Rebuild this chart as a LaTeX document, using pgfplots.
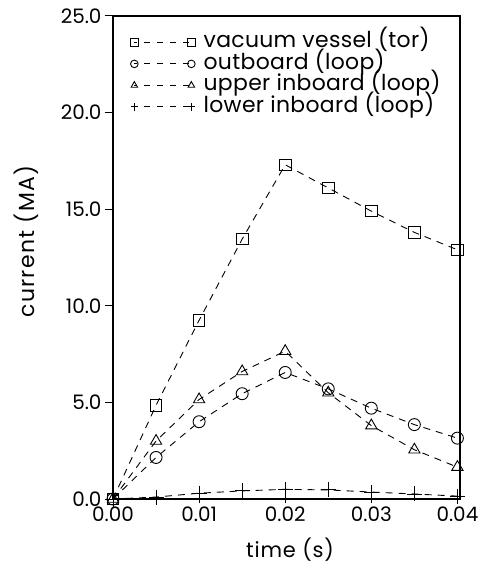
\documentclass[border=0pt]{standalone}
\usepackage{pgfplots}
\pgfplotsset{compat=1.18}
\usepackage{fontspec}
\setmainfont{Poppins}
\begin{document}
\begin{tikzpicture}
\path[use as bounding box] (-113bp,-71bp) rectangle (369bp,499bp);
\begin{axis}[
 at={(0,0)}, anchor=south west,
 scale only axis, width=347bp, height=483bp,
 xmin=0, xmax=0.0403, ymin=0, ymax=25,
 clip=false,
 xtick={0,0.01,0.02,0.03,0.04},
 ytick={0,5,10,15,20,25},
 scaled x ticks=false, scaled y ticks=false,
 x tick label style={font=\fontsize{20}{22}\selectfont, /pgf/number format/.cd, fixed, fixed zerofill, precision=2, assume math mode=true},
 y tick label style={font=\fontsize{20}{22}\selectfont, /pgf/number format/.cd, fixed, fixed zerofill, precision=1, assume math mode=true},
 xtick pos=bottom, ytick pos=left,
 xtick align=center, ytick align=outside,
 major tick length=8bp,
 tick style={black, line width=1pt},
 axis line style={line width=1.4pt},
 xlabel={time (s)}, ylabel={current (MA)},
 xlabel style={font=\fontsize{21}{22}\selectfont\addfontfeatures{LetterSpace=4}, at={(axis description cs:0.51,-0.104)}, anchor=center},
 ylabel style={font=\fontsize{22}{22}\selectfont\addfontfeatures{LetterSpace=6}, at={(axis description cs:-0.251,0.533)}, anchor=center},
 legend cell align=left,
 legend style={at={(axis description cs:0.05,0.968)}, anchor=north west, draw=none, fill=none,
   font=\fontsize{22}{22}\selectfont\addfontfeatures{LetterSpace=1.5}, inner sep=0pt, row sep=0pt, column sep=7bp,
   nodes={inner sep=1.5bp, text height=14.5bp, text depth=4bp}},
 legend image code/.code={\draw[#1, mark size=3.8bp, dash pattern=on 6bp off 7bp, dash phase=-10bp] plot coordinates {(0bp,0bp) (57bp,0bp)};},
 every axis plot/.append style={black, line width=0.9pt, dash pattern=on 7bp off 6bp, mark options={solid, line width=0.9pt}},
]
\addplot[mark=square, mark size=5.8bp] coordinates {
(0,0) (0.005,4.85) (0.01,9.25) (0.015,13.45) (0.02,17.3) (0.025,16.1) (0.03,14.9) (0.035,13.8) (0.04,12.9)};
\addlegendentry{vacuum vessel (tor)}
\addplot[mark=o, mark size=6bp] coordinates {
(0,0) (0.005,2.15) (0.01,4.0) (0.015,5.45) (0.02,6.55) (0.025,5.7) (0.03,4.7) (0.035,3.85) (0.04,3.15)};
\addlegendentry{outboard (loop)}
\addplot[mark=triangle, mark size=6.5bp] coordinates {
(0,0) (0.005,3.0) (0.01,5.15) (0.015,6.6) (0.02,7.65) (0.025,5.5) (0.03,3.8) (0.035,2.55) (0.04,1.65)};
\addlegendentry{upper inboard (loop)}
\addplot[mark=+, mark size=7.5bp] coordinates {
(0,0) (0.005,0.1) (0.01,0.3) (0.015,0.42) (0.02,0.5) (0.025,0.47) (0.03,0.36) (0.035,0.26) (0.04,0.15)};
\addlegendentry{lower inboard (loop)}
\end{axis}
\end{tikzpicture}
\end{document}
